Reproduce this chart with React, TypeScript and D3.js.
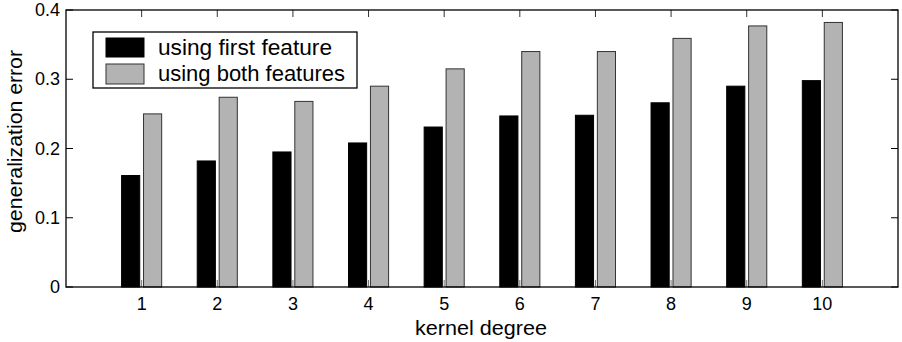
import React from "react";
import * as d3 from "d3";

// kernel degree on x, generalization error on y
const degrees = [1, 2, 3, 4, 5, 6, 7, 8, 9, 10];
const firstFeature = [0.161, 0.182, 0.195, 0.208, 0.231, 0.247, 0.248, 0.266, 0.29, 0.298];
const bothFeatures = [0.25, 0.274, 0.268, 0.29, 0.315, 0.34, 0.34, 0.359, 0.377, 0.382];
const yTicks = [0, 0.1, 0.2, 0.3, 0.4];
const seriesNames = ["using first feature", "using both features"];

const W = 902;
const H = 342;
const FONT = "'Liberation Sans', Arial, Helvetica, sans-serif";

export default function App() {
  const left = 66;
  const right = 898;
  const top = 10;
  const bottom = 287;

  const x = d3.scaleLinear().domain([0, 11]).range([left, right]);
  const y = d3.scaleLinear().domain([0, 0.4]).range([bottom, top]);
  const barW = x(0.24) - x(0);
  const offset = x(0.145) - x(0);

  const tickLen = 7;

  return (
    <svg
      width={W}
      height={H}
      style={{ position: "absolute", left: 0, top: 0, background: "#fff" }}
      fontFamily={FONT}
    >
      {/* bars */}
      {degrees.map((d, i) => (
        <g key={d}>
          <rect
            x={x(d) - offset - barW / 2}
            y={y(firstFeature[i])}
            width={barW}
            height={y(0) - y(firstFeature[i])}
            fill="#000"
            stroke="#000"
            strokeWidth={1}
          />
          <rect
            x={x(d) + offset - barW / 2}
            y={y(bothFeatures[i])}
            width={barW}
            height={y(0) - y(bothFeatures[i])}
            fill="#b3b3b3"
            stroke="#333"
            strokeWidth={1}
          />
        </g>
      ))}

      {/* inner ticks, x */}
      {degrees.map((d) => (
        <g key={"xt" + d}>
          <line x1={x(d)} x2={x(d)} y1={bottom} y2={bottom - tickLen} stroke="#777" strokeWidth={1} />
          <line x1={x(d)} x2={x(d)} y1={top} y2={top + tickLen} stroke="#333" strokeWidth={1} />
          <text x={x(d)} y={bottom + 23} textAnchor="middle" fontSize={18} fill="#000">
            {d}
          </text>
        </g>
      ))}

      {/* inner ticks, y */}
      {yTicks.map((t) => (
        <g key={"yt" + t}>
          <line x1={left} x2={left + tickLen} y1={y(t)} y2={y(t)} stroke="#000" strokeWidth={1} />
          <line x1={right} x2={right - tickLen} y1={y(t)} y2={y(t)} stroke="#000" strokeWidth={1} />
          <text x={left - 6} y={y(t) + 6} textAnchor="end" fontSize={18} fill="#000">
            {t === 0 ? "0" : d3.format(".1f")(t)}
          </text>
        </g>
      ))}

      {/* axes box */}
      <rect
        x={left}
        y={top}
        width={right - left}
        height={bottom - top}
        fill="none"
        stroke="#000"
        strokeWidth={1.3}
      />

      {/* axis labels */}
      <text
        x={481}
        y={335}
        textAnchor="middle"
        fontSize={20}
        fill="#000"
        textLength={132}
        lengthAdjust="spacingAndGlyphs"
      >
        kernel degree
      </text>
      <text
        transform={`translate(22, 141.5) rotate(-90)`}
        textAnchor="middle"
        fontSize={21}
        fill="#000"
        textLength={183}
        lengthAdjust="spacingAndGlyphs"
      >
        generalization error
      </text>

      {/* legend */}
      <g>
        <rect x={93} y={32} width={264} height={56} fill="#fff" stroke="#000" strokeWidth={1.3} />
        <rect x={106} y={38} width={38} height={19} fill="#000" stroke="#000" />
        <rect x={106} y={64} width={38} height={20} fill="#b3b3b3" stroke="#333" />
        <text x={158} y={55} fontSize={22} fill="#000" textLength={174} lengthAdjust="spacingAndGlyphs">
          {seriesNames[0]}
        </text>
        <text x={158} y={81} fontSize={22} fill="#000" textLength={187} lengthAdjust="spacingAndGlyphs">
          {seriesNames[1]}
        </text>
      </g>
    </svg>
  );
}
